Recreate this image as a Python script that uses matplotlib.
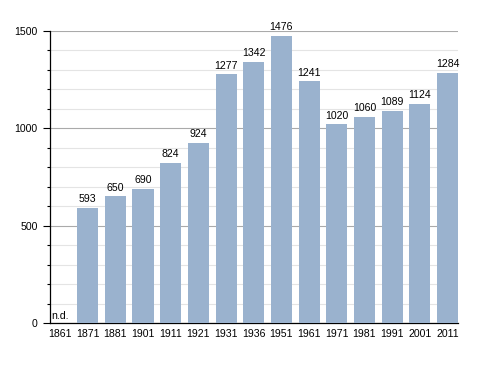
import matplotlib
matplotlib.use("Agg")
import matplotlib.pyplot as plt
from matplotlib.ticker import MultipleLocator

plt.rcParams['font.family'] = ['Liberation Sans', 'DejaVu Sans']

years = ["1861", "1871", "1881", "1901", "1911", "1921", "1931", "1936",
         "1951", "1961", "1971", "1981", "1991", "2001", "2011"]
population = [None, 593, 650, 690, 824, 924, 1277, 1342,
              1476, 1241, 1020, 1060, 1089, 1124, 1284]

fig = plt.figure(figsize=(4.88, 3.73), dpi=100)
ax = fig.add_axes([50/488, 1 - 323/373, 408/488, 292/373])

x = list(range(len(years)))
vals = [v if v is not None else 0 for v in population]
ax.bar(x, vals, width=0.76, color="#9ab2ce", zorder=3)

fs = 7.6
for i, v in enumerate(population):
    if v is None:
        ax.text(i - 0.3, 10, "n.d.", fontsize=fs, ha="left", va="bottom", zorder=4)
    else:
        ax.text(i, v + 20, str(v), fontsize=fs, ha="center", va="bottom", zorder=4)

ax.set_xlim(-0.36, 14.38)
ax.set_ylim(0, 1500)
ax.set_xticks(x)
ax.set_xticklabels(years, fontsize=fs)
ax.tick_params(axis="x", length=0, pad=4)
ax.yaxis.set_major_locator(MultipleLocator(500))
ax.yaxis.set_minor_locator(MultipleLocator(100))
ax.tick_params(axis="y", which="major", length=5, width=0.8, labelsize=fs, pad=4)
ax.tick_params(axis="y", which="minor", length=2.5, width=0.8)
ax.grid(axis="y", which="major", color="#aaaaaa", linewidth=0.8, zorder=1)
ax.grid(axis="y", which="minor", color="#e4e4e4", linewidth=0.8, zorder=0)
for s in ["top", "right"]:
    ax.spines[s].set_visible(False)
ax.spines["left"].set_linewidth(0.9)
ax.spines["bottom"].set_linewidth(0.9)

fig.savefig("out.png", dpi=100)
